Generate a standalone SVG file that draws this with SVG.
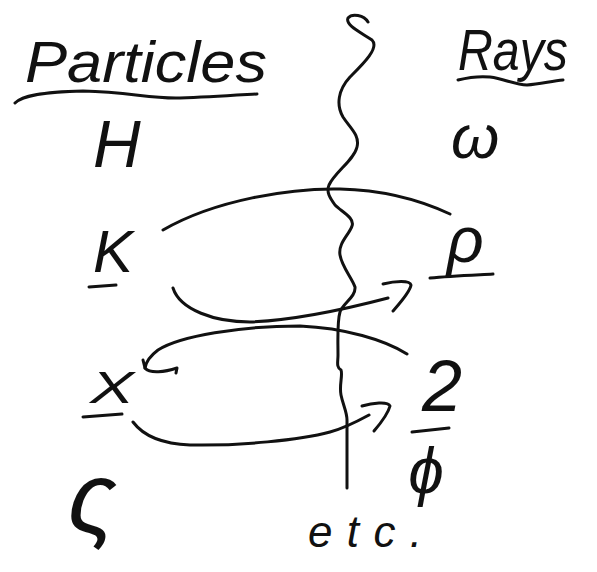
<svg xmlns="http://www.w3.org/2000/svg" width="597" height="572" viewBox="0 0 597 572">
<style>
.t{font-family:"Liberation Sans","DejaVu Sans",sans-serif;font-style:italic;fill:#111}
.s{fill:none;stroke:#111;stroke-width:3;stroke-linecap:round;stroke-linejoin:round}
</style>
<rect width="597" height="572" fill="#fff"/>
<g id="divider">
<path class="s" d="M368,22 C364,15 352,13 348,18 C345,25 360,32 372,40 C380,48 362,65 350,77 C338,90 336,105 343,117 C350,128 360,135 357,147 C354,160 335,172 329,185 C326,192 330,198 335,205 C342,212 355,218 352,226 C349,235 338,243 340,255 C342,267 352,278 355,287 C356,297 343,303 340,312 C337,322 338,340 338,355 C338,362 336,367 341,370 C343,375 339,385 341,395 C343,405 347,412 347,420 L347,488"/>
</g>
<g id="particles-heading">
<text class="t" x="25" y="82" font-size="58" textLength="242" lengthAdjust="spacingAndGlyphs">Particles</text>
<path class="s" d="M15,103 C22,96 40,92 83,91 C130,92 150,99 180,98 C210,97 240,95 257,94"/>
</g>
<g id="rays-heading">
<text class="t" x="458" y="70" font-size="58" textLength="110" lengthAdjust="spacingAndGlyphs">Rays</text>
<path class="s" d="M458,80 C470,77 480,76 490,77 C505,79 515,85 527,85 C540,84 552,81 563,80"/>
</g>
<g id="node-H"><text class="t" x="93" y="167" font-size="66">H</text></g>
<g id="node-omega"><text class="t" x="451" y="158" font-size="62">ω</text></g>
<g id="node-K">
<text class="t" x="93" y="272" font-size="60">K</text>
<path class="s" d="M89,287 L116,285"/>
</g>
<g id="node-rho">
<text class="t" x="447" y="262" font-size="64">ρ</text>
<path class="s" d="M430,278 C450,276 475,275 493,274"/>
</g>
<g id="node-X">
<text class="t" x="90" y="403" font-size="44" textLength="44" lengthAdjust="spacingAndGlyphs">X</text>
<path class="s" d="M83,417 L122,414"/>
</g>
<g id="node-2">
<text class="t" x="422" y="411" font-size="72">2</text>
<path class="s" d="M412,432 L449,428"/>
</g>
<g id="node-sigma"><text class="t" x="68" y="532" font-size="100">ς</text></g>
<g id="node-phi"><text class="t" x="426" y="493" font-size="64" text-anchor="middle">ϕ</text></g>
<g id="node-etc"><text class="t" x="308" y="547" font-size="44" textLength="114" lengthAdjust="spacing">etc.</text></g>
<g id="connectors">
<path class="s" d="M163,230 C215,200 290,188 340,189 C385,190 420,200 450,214"/>
<path class="s" d="M173,288 C180,310 215,322 250,322 C300,320 350,308 388,298"/>
<path class="s" d="M383,284 C395,281 410,280 411,285 C410,292 400,303 393,311"/>
<path class="s" d="M407,354 C385,340 345,328 300,326 C240,326 180,336 158,350 C150,356 146,362 145,368"/>
<path class="s" d="M143,360 L145,368 C150,374 165,372 177,368 L176,373"/>
<path class="s" d="M133,422 C145,438 165,444 190,445 C240,446 300,440 330,432 C345,428 358,421 369,415"/>
<path class="s" d="M362,406 C372,403 388,401 390,406 C388,414 380,424 374,431"/>
</g>
</svg>
